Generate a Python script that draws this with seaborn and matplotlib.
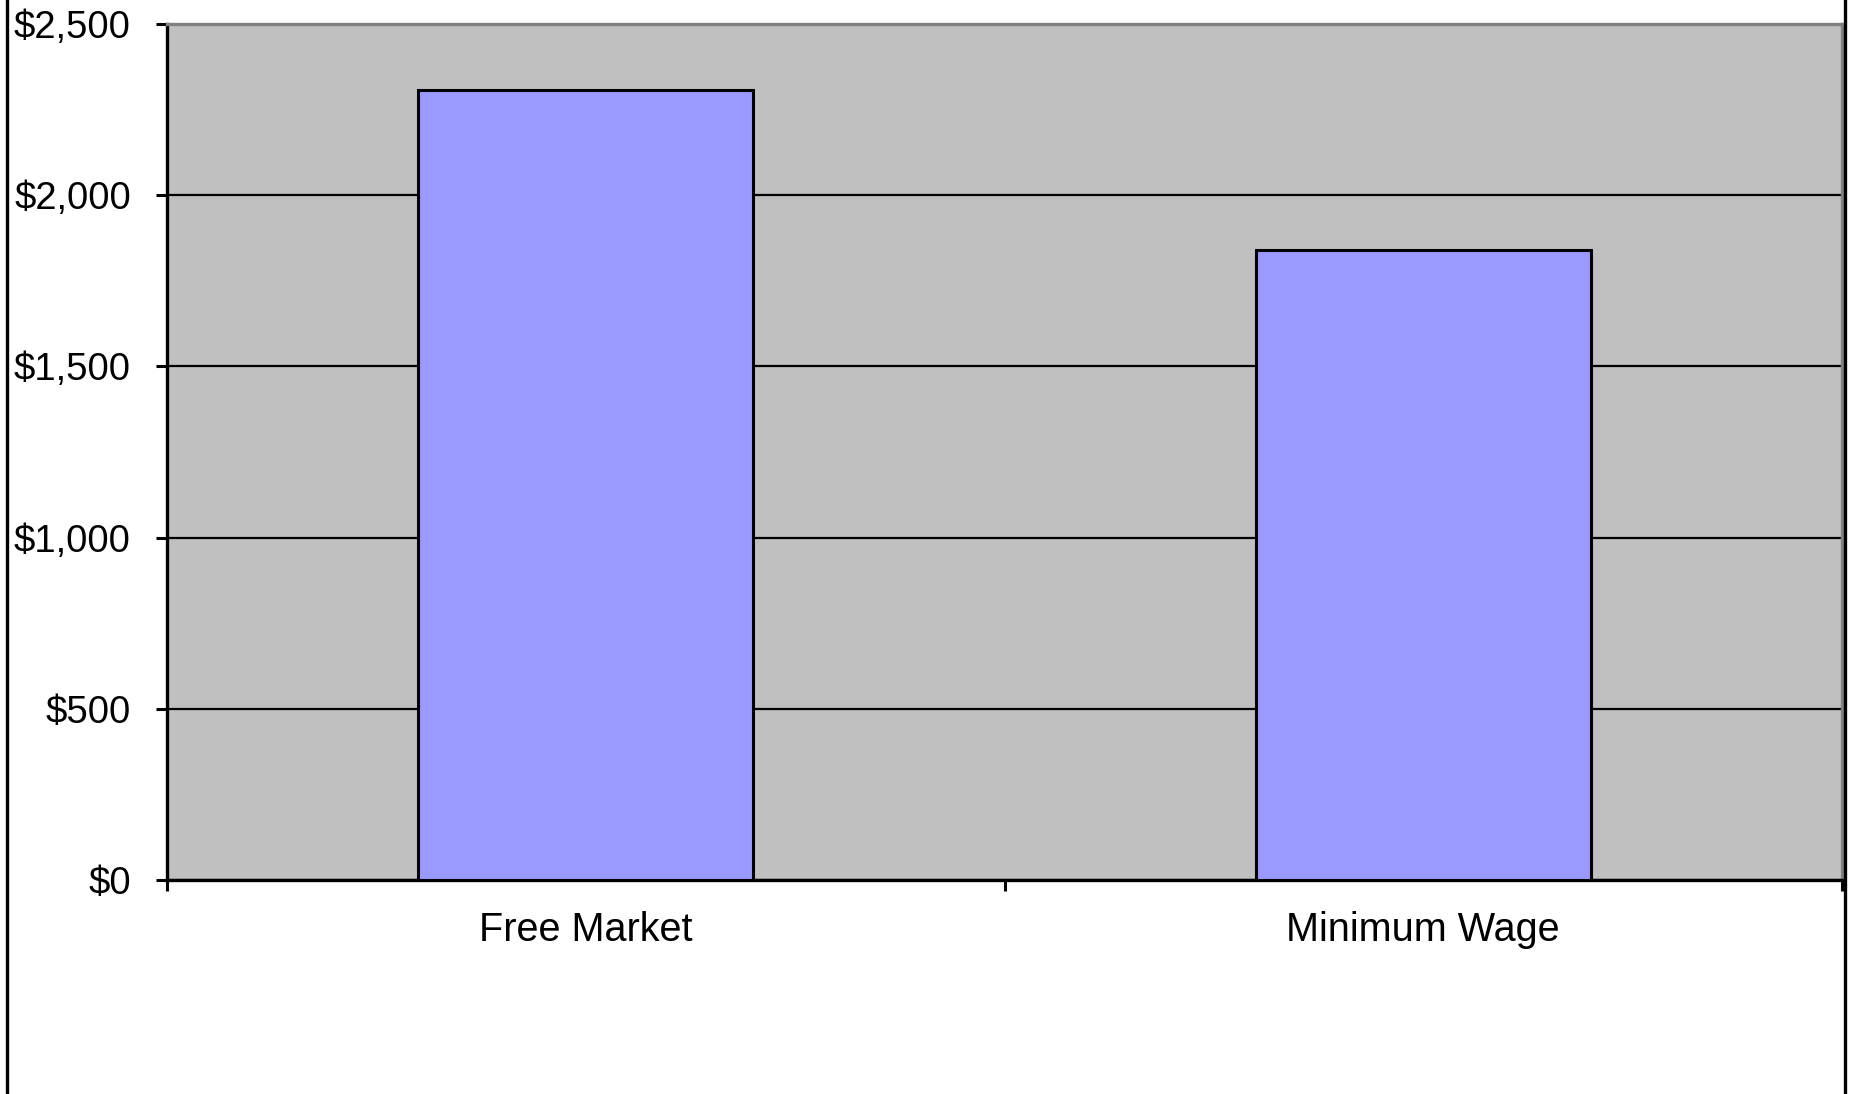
import matplotlib
matplotlib.use("Agg")
import matplotlib.pyplot as plt
import matplotlib.ticker as mticker
from matplotlib.lines import Line2D
import seaborn as sns
import pandas as pd

categories = ["Free Market", "Minimum Wage"]
values = [2307, 1840]
y_ticks = [0, 500, 1000, 1500, 2000, 2500]

sns.set_theme(style="white")
plt.rcParams["font.family"] = ["Liberation Sans", "DejaVu Sans"]

df = pd.DataFrame({"category": categories, "value": values})

fig = plt.figure(figsize=(18.51, 10.94), dpi=100)
ax = fig.add_axes([167 / 1851, 1 - 880 / 1094, (1842 - 167) / 1851, (880 - 24) / 1094])
ax.set_facecolor("#C0C0C0")

sns.barplot(data=df, x="category", y="value", color="#9999FF", saturation=1,
            width=0.4, edgecolor="black", linewidth=2.2, ax=ax, zorder=3)

ax.set_xlim(-0.5, 1.5)
ax.set_ylim(0, 2500)
ax.set_xlabel("")
ax.set_ylabel("")

# horizontal gridlines
ax.set_yticks(y_ticks)
ax.yaxis.set_major_formatter(mticker.FuncFormatter(lambda v, p: f"${v:,.0f}"))
ax.grid(axis="y", color="black", linewidth=1.6, zorder=1)
ax.grid(axis="x", visible=False)
ax.set_axisbelow(True)

# category boundary ticks, labels centred on categories
ax.set_xticks([-0.5, 0.5, 1.5])
ax.set_xticklabels(["", "", ""])
ax.set_xticks([0, 1], minor=True)
ax.set_xticklabels(categories, minor=True)
ax.tick_params(axis="x", which="major", length=8, width=2.2, color="black", direction="out", bottom=True)
ax.tick_params(axis="x", which="minor", length=0, pad=22, labelsize=28.5, labelcolor="black", bottom=True)
ax.tick_params(axis="y", which="major", length=8, width=2.2, color="black", direction="out",
               pad=18, labelsize=27.5, labelcolor="black", left=True)

for side in ["left", "bottom"]:
    ax.spines[side].set_color("black")
    ax.spines[side].set_linewidth(2.4)
for side in ["top", "right"]:
    ax.spines[side].set_color("#808080")
    ax.spines[side].set_linewidth(2.4)
    ax.spines[side].set_visible(True)

# chart frame edges
for xpix in (7, 1845):
    fig.add_artist(Line2D([xpix / 1851, xpix / 1851], [0, 1], transform=fig.transFigure,
                          color="black", linewidth=2.4))

fig.savefig("out.png", dpi=100, facecolor="white")
